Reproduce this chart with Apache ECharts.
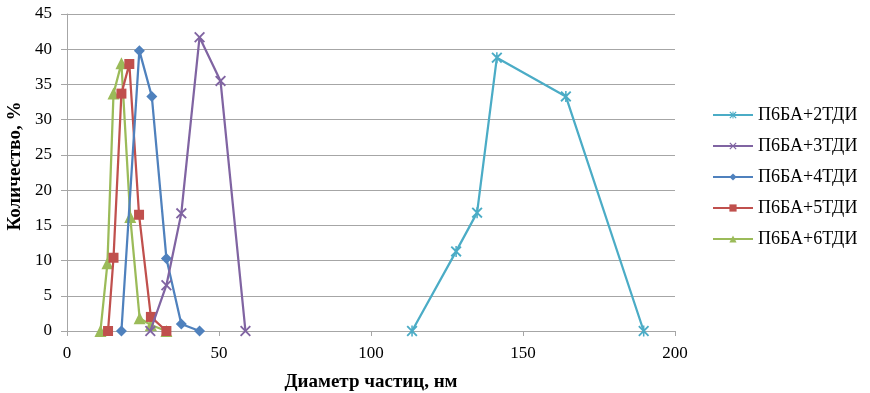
<!DOCTYPE html>
<html><head><meta charset="utf-8">
<script src="https://cdn.jsdelivr.net/npm/echarts@6/dist/echarts.min.js"></script>
<style>html,body{margin:0;padding:0;background:#fff}#c{width:870px;height:393px}</style>
</head><body><div id="c"></div>
<script>
const seriesNames = ['П6БА+2ТДИ','П6БА+3ТДИ','П6БА+4ТДИ','П6БА+5ТДИ','П6БА+6ТДИ'];
const x2 = [113.5, 128.0, 134.9, 141.4, 164.1, 189.7];
const y2 = [0, 11.3, 16.8, 38.8, 33.3, 0];
const x3 = [27.4, 32.7, 37.6, 43.6, 50.5, 58.7];
const y3 = [0, 6.5, 16.7, 41.7, 35.5, 0];
const x4 = [17.9, 23.8, 27.9, 32.7, 37.6, 43.6];
const y4 = [0, 39.8, 33.3, 10.3, 1.0, 0];
const x5 = [13.5, 15.3, 17.9, 20.5, 23.7, 27.6, 32.7];
const y5 = [0, 10.4, 33.7, 37.9, 16.5, 2.0, 0];
const x6 = [11.0, 13.3, 15.3, 17.9, 20.8, 23.9, 27.6, 32.7];
const y6 = [0, 9.6, 33.7, 38.0, 16.2, 1.8, 0.85, 0];
const colors = ['#4BACC6','#8064A2','#4F81BD','#C0504D','#9BBB59'];
const xs = [x2,x3,x4,x5,x6], ys=[y2,y3,y4,y5,y6];
const xPath = 'path://M0,1.2 L1.2,0 L5,3.8 L8.8,0 L10,1.2 L6.2,5 L10,8.8 L8.8,10 L5,6.2 L1.2,10 L0,8.8 L3.8,5 Z';
const starPath = 'path://M0,1.2 L1.2,0 L5,3.8 L8.8,0 L10,1.2 L6.2,5 L10,8.8 L8.8,10 L5,6.2 L1.2,10 L0,8.8 L3.8,5 Z M4.3,0 L5.7,0 L5.7,10 L4.3,10 Z';
const symbols = [starPath, xPath, 'diamond', 'rect', 'triangle'];
const sizes = [11, 11, 11, 10, 12];
const font = '"Times New Roman","Liberation Serif",serif';
const chart = echarts.init(document.getElementById('c'));
chart.setOption({
  animation:false,
  textStyle:{fontFamily:font},
  grid:{left:67,top:14,width:608,height:317,containLabel:false,outerBoundsMode:'none'},
  legend:{
    orient:'vertical', left:707, top:101, itemGap:13, itemWidth:40, itemHeight:9,
    textStyle:{fontFamily:font,fontSize:18,color:'#000'},
    data:seriesNames
  },
  xAxis:{type:'value',min:0,max:200,interval:50,
    name:'Диаметр частиц, нм',nameLocation:'middle',nameGap:42,
    nameTextStyle:{fontFamily:font,fontSize:19,fontWeight:'bold',color:'#000'},
    axisLine:{lineStyle:{color:'#a6a6a6'}},
    axisTick:{show:true,length:5,lineStyle:{color:'#a6a6a6'}},
    axisLabel:{fontFamily:font,fontSize:17,color:'#000',margin:14},
    splitLine:{show:false}},
  yAxis:{type:'value',min:0,max:45,interval:5,
    name:'Количество, %',nameLocation:'middle',nameGap:42,
    nameTextStyle:{fontFamily:font,fontSize:19,fontWeight:'bold',color:'#000',padding:[0,0,0,13]},
    axisLine:{show:true,lineStyle:{color:'#a6a6a6'}},
    axisTick:{show:true,length:6,lineStyle:{color:'#a6a6a6'}},
    axisLabel:{fontFamily:font,fontSize:17,color:'#000',margin:15},
    splitLine:{lineStyle:{color:'#a6a6a6'}}},
  series: seriesNames.map((n,i)=>({
    name:n,type:'line',
    data: xs[i].map((v,j)=>[v, ys[i][j]]),
    symbol:symbols[i],symbolSize:sizes[i],showAllSymbol:true,
    lineStyle:{color:colors[i],width:2.25},
    itemStyle:{color:colors[i]},
    z: 10-i
  }))
});
</script></body></html>
